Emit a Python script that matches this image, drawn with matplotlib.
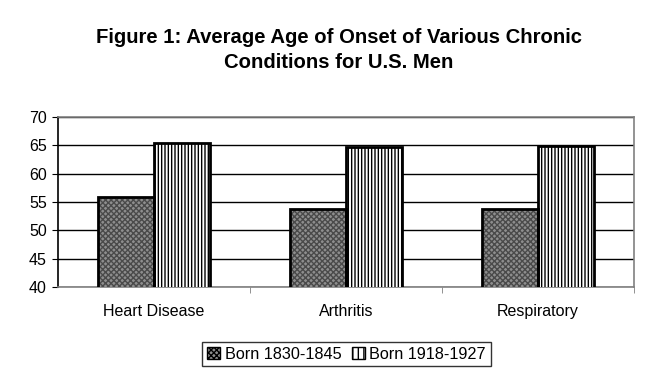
#!/usr/bin/env python3
"""Average age of onset of chronic conditions, Excel-style grouped bars."""
import numpy as np
import matplotlib
matplotlib.use('Agg')
import matplotlib.pyplot as plt
from matplotlib.patches import Patch

plt.rcParams['font.family'] = ['Liberation Sans', 'DejaVu Sans']
plt.rcParams['hatch.linewidth'] = 1.0

categories = ['Heart Disease', 'Arthritis', 'Respiratory']
series_names = ['Born 1830-1845', 'Born 1918-1927']
born_1830 = [55.9, 53.8, 53.8]
born_1918 = [65.5, 64.7, 64.9]
y_ticks = [40, 45, 50, 55, 60, 65, 70]

fig = plt.figure(figsize=(6.61, 3.85), dpi=100)
ax = fig.add_axes([0.0877, 0.2545, 0.8715, 0.4415])

x = np.arange(len(categories))
w = 0.29

# series 1: gray checker-like fill
ax.bar(x - w / 2, born_1830, w, color='#8e8e8e', hatch='xxxxxx',
       edgecolor='#4a4a4a', linewidth=0, zorder=3)
ax.bar(x - w / 2, born_1830, w, fill=False, edgecolor='black', linewidth=2, zorder=4)
# series 2: white with vertical stripes
ax.bar(x + w / 2, born_1918, w, color='white', hatch='|||||',
       edgecolor='black', linewidth=0, zorder=3)
ax.bar(x + w / 2, born_1918, w, fill=False, edgecolor='black', linewidth=2, zorder=4)

ax.set_ylim(40, 70)
ax.set_xlim(-0.5, 2.5)
ax.set_yticks(y_ticks)
ax.set_yticklabels([str(t) for t in y_ticks], fontsize=11.5)
ax.set_xticks(x)
ax.set_xticklabels(categories, fontsize=11.5)
ax.tick_params(axis='x', which='major', length=0, pad=12)
ax.set_xticks([0.5, 1.5, 2.5], minor=True)
ax.tick_params(axis='x', which='minor', length=4, direction='out', color='#808080')
ax.tick_params(axis='y', length=4, direction='out', pad=4)

ax.grid(axis='y', color='black', linewidth=1, zorder=1)
ax.set_axisbelow(True)

ax.spines['left'].set_color('black')
for s in ['top', 'right', 'bottom']:
    ax.spines[s].set_color('#808080')
for s in ax.spines.values():
    s.set_linewidth(1.2)

handles = [
    Patch(facecolor='#8e8e8e', edgecolor='black', hatch='xxxxxx', label=series_names[0]),
    Patch(facecolor='white', edgecolor='black', hatch='|||', label=series_names[1]),
]
leg = fig.legend(handles=handles, loc='center', bbox_to_anchor=(0.5245, 0.0805), ncol=2,
                 frameon=True, fancybox=False, fontsize=11.7, handlelength=0.8,
                 handleheight=0.8, handletextpad=0.3, columnspacing=0.6,
                 borderpad=0.3, edgecolor='black')
leg.get_frame().set_linewidth(1.0)

fig.text(0.513, 0.928, 'Figure 1: Average Age of Onset of Various Chronic\nConditions for U.S. Men',
         ha='center', va='top', fontsize=14.6, fontweight='bold', linespacing=1.4)

fig.savefig('out.png', dpi=100)
